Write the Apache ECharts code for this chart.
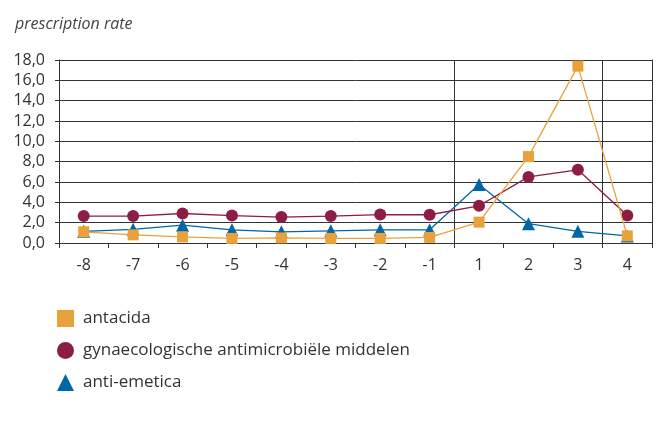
<!DOCTYPE html>
<html>
<head>
<meta charset="utf-8">
<script src="https://cdn.jsdelivr.net/npm/echarts@6/dist/echarts.min.js"></script>
<style>
  html, body { margin: 0; padding: 0; background: #fff; }
  #chart { width: 657px; height: 421px; }
</style>
</head>
<body>
<div id="chart"></div>
<script>
// Months relative to the event
const categories = ['-8', '-7', '-6', '-5', '-4', '-3', '-2', '-1', '1', '2', '3', '4'];

const antacida = [1.1, 0.8, 0.6, 0.45, 0.5, 0.45, 0.45, 0.55, 2.05, 8.5, 17.4, 0.7];
const gynaecologisch = [2.65, 2.65, 2.9, 2.7, 2.55, 2.65, 2.8, 2.78, 3.66, 6.5, 7.2, 2.7];
const antiEmetica = [1.15, 1.35, 1.75, 1.3, 1.1, 1.2, 1.3, 1.3, 5.75, 1.9, 1.15, 0.7];

const seriesNames = ['antacida', 'gynaecologische antimicrobiële middelen', 'anti-emetica'];
const yTicks = { min: 0, max: 18, interval: 2 };

const colors = { antacida: '#E9A23B', gyn: '#8C1D47', anti: '#0066A6' };
const font = '"Open Sans", "Noto Sans", sans-serif';

const chart = echarts.init(document.getElementById('chart'), null, { renderer: 'canvas' });

chart.setOption({
  animation: false,
  backgroundColor: '#fff',
  title: {
    text: 'prescription rate',
    left: 10,
    top: 11,
    textStyle: { fontFamily: font, fontStyle: 'italic', fontWeight: 'normal', fontSize: 16, color: '#444' }
  },
  legend: {
    orient: 'vertical',
    left: 52,
    top: 305,
    itemGap: 15,
    itemWidth: 17,
    itemHeight: 17,
    textStyle: { fontFamily: font, fontSize: 17, color: '#333', padding: [0, 0, 0, 4] },
    data: [
      { name: seriesNames[0], icon: 'rect', itemStyle: { color: colors.antacida } },
      { name: seriesNames[1], icon: 'circle', itemStyle: { color: colors.gyn } },
      { name: seriesNames[2], icon: 'triangle', itemStyle: { color: colors.anti } }
    ]
  },
  grid: { left: 59, right: 5, top: 60, bottom: 178, containLabel: false },
  xAxis: {
    type: 'category',
    data: categories,
    boundaryGap: true,
    axisLine: { lineStyle: { color: '#333', width: 1 } },
    axisTick: { show: true, length: 5, lineStyle: { color: '#333' }, interval: 0 },
    axisLabel: { fontFamily: font, fontSize: 16, color: '#333', margin: 14, interval: 0 },
    splitLine: {
      show: true,
      interval: function (index) { return index === 8 || index === 11; },
      lineStyle: { color: '#333', width: 1 }
    }
  },
  yAxis: [
    {
      type: 'value',
      min: yTicks.min,
      max: yTicks.max,
      interval: yTicks.interval,
      axisLine: { show: true, lineStyle: { color: '#333', width: 1 } },
      axisTick: { show: true, length: 4, lineStyle: { color: '#333' } },
      axisLabel: {
        fontFamily: font, fontSize: 16, color: '#333', margin: 14,
        formatter: function (v) { return v.toFixed(1).replace('.', ','); }
      },
      splitLine: { show: true, lineStyle: { color: '#333', width: 1 } }
    },
    {
      type: 'value',
      position: 'right',
      min: yTicks.min,
      max: yTicks.max,
      interval: yTicks.interval,
      axisLine: { show: true, lineStyle: { color: '#333', width: 1 } },
      axisTick: { show: false },
      axisLabel: { show: false },
      splitLine: { show: false }
    }
  ],
  series: [
    {
      name: seriesNames[2],
      type: 'line',
      data: antiEmetica,
      symbol: 'triangle',
      symbolSize: 13,
      itemStyle: { color: colors.anti },
      lineStyle: { color: colors.anti, width: 1.3 },
      z: 3
    },
    {
      name: seriesNames[1],
      type: 'line',
      data: gynaecologisch,
      symbol: 'circle',
      symbolSize: 12,
      itemStyle: { color: colors.gyn },
      lineStyle: { color: colors.gyn, width: 1.3 },
      z: 4
    },
    {
      name: seriesNames[0],
      type: 'line',
      data: antacida,
      symbol: 'rect',
      symbolSize: 11,
      itemStyle: { color: colors.antacida },
      lineStyle: { color: colors.antacida, width: 1.3 },
      z: 5
    }
  ]
});
</script>
</body>
</html>
